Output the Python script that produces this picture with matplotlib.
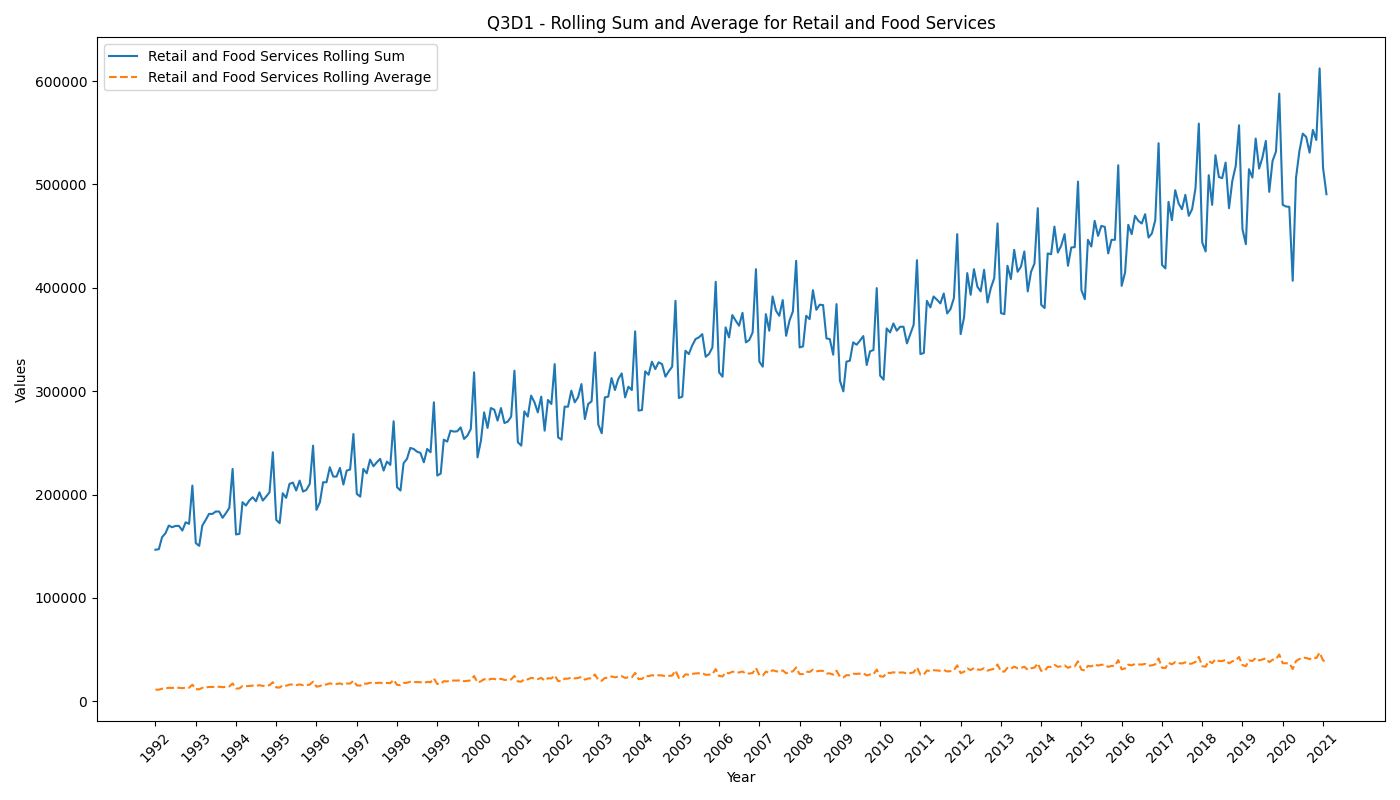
import numpy as np
import pandas as pd
import matplotlib
matplotlib.use('Agg')
import matplotlib.pyplot as plt

# monthly values, in thousands, Jan 1992 .. Feb 2021
rolling_sum_k = [
    146.6, 147.2, 158.8, 162.6, 170.0, 168.4, 169.7, 169.7, 165.2, 173.2, 171.7, 208.7,  # 1992
    153.0, 150.4, 170.0, 175.5, 181.3, 181.3, 183.6, 183.6, 177.5, 182.0, 187.1, 224.8,  # 1993
    161.4, 162.0, 192.6, 189.4, 194.2, 197.4, 193.5, 202.2, 194.2, 198.0, 202.2, 240.9,  # 1994
    175.5, 172.3, 201.3, 196.8, 210.3, 211.6, 203.9, 213.5, 202.9, 204.5, 210.3, 247.3,  # 1995
    185.2, 192.6, 211.9, 211.9, 226.4, 217.4, 217.4, 225.8, 209.7, 223.2, 224.2, 258.6,  # 1996
    200.6, 198.0, 224.8, 220.6, 233.8, 227.4, 231.2, 234.5, 223.2, 231.9, 228.7, 270.9,  # 1997
    207.1, 203.9, 230.3, 234.5, 245.1, 244.1, 241.5, 240.3, 231.2, 244.1, 240.9, 289.2,  # 1998
    218.4, 220.3, 253.1, 251.2, 261.8, 260.9, 261.2, 265.0, 253.8, 257.0, 263.4, 318.2,  # 1999
    236.0, 252.2, 279.5, 264.4, 283.7, 282.1, 271.5, 283.7, 269.2, 270.5, 275.4, 319.8,  # 2000
    250.6, 247.3, 280.5, 275.4, 295.7, 289.2, 279.5, 294.7, 261.8, 291.5, 287.6, 326.2,  # 2001
    255.4, 253.1, 285.0, 285.0, 300.5, 289.2, 294.0, 306.9, 273.1, 287.6, 290.2, 337.5,  # 2002
    267.6, 259.3, 294.0, 294.7, 312.7, 301.1, 311.8, 317.2, 294.0, 304.3, 301.1, 357.8,  # 2003
    281.2, 281.8, 319.2, 315.9, 328.5, 321.4, 327.9, 326.2, 314.0, 319.2, 323.7, 387.4,  # 2004
    293.4, 294.7, 339.1, 335.9, 344.0, 350.4, 352.0, 355.2, 333.3, 335.9, 342.3, 405.8,  # 2005
    318.2, 314.0, 361.7, 352.0, 373.6, 368.1, 363.3, 375.8, 347.2, 349.4, 356.8, 418.0,  # 2006
    328.5, 323.7, 374.5, 358.5, 391.6, 377.8, 372.9, 388.1, 353.6, 368.1, 377.1, 426.1,  # 2007
    342.3, 343.3, 372.9, 369.7, 397.7, 378.7, 383.6, 383.3, 351.0, 350.4, 335.3, 384.2,  # 2008
    310.1, 299.8, 328.5, 329.5, 347.2, 344.9, 348.8, 353.3, 325.3, 338.5, 339.8, 399.7,  # 2009
    315.0, 311.1, 360.7, 356.8, 365.5, 358.5, 362.3, 362.3, 346.2, 355.2, 364.3, 426.7,  # 2010
    335.9, 336.9, 387.4, 381.0, 391.6, 388.4, 384.9, 394.5, 375.2, 379.4, 390.0, 451.9,  # 2011
    355.2, 371.3, 414.2, 393.2, 418.0, 401.0, 396.5, 417.4, 385.8, 399.7, 409.4, 462.2,  # 2012
    375.5, 374.5, 421.3, 408.4, 436.7, 415.5, 420.3, 435.1, 396.5, 415.5, 423.5, 477.0,  # 2013
    383.6, 380.4, 433.2, 432.5, 459.2, 434.1, 440.6, 451.9, 421.3, 439.0, 439.3, 502.7,  # 2014
    397.7, 389.0, 446.4, 439.9, 464.7, 450.2, 459.9, 458.9, 433.2, 446.4, 446.4, 518.5,  # 2015
    401.9, 414.8, 460.9, 451.9, 469.6, 464.7, 462.2, 471.2, 448.6, 452.5, 465.4, 539.8,  # 2016
    422.2, 418.7, 483.1, 465.4, 494.4, 481.5, 476.0, 489.9, 469.6, 476.0, 496.3, 558.8,  # 2017
    443.8, 435.1, 508.9, 480.2, 528.2, 507.2, 506.0, 521.1, 477.0, 503.4, 517.9, 557.2,  # 2018
    456.7, 442.2, 514.7, 506.6, 544.3, 515.3, 525.9, 542.0, 492.8, 522.7, 531.7, 587.8,  # 2019
    480.2, 478.6, 478.3, 406.8, 506.6, 532.4, 549.1, 545.9, 530.7, 552.7, 543.0, 612.2,  # 2020
    516.3, 490.5,                                                                        # 2021
]

rolling_avg_k = [
    11.3, 11.3, 12.2, 12.5, 13.1, 13.0, 13.1, 13.1, 12.7, 13.3, 13.2, 16.1,
    11.8, 11.6, 13.1, 13.5, 13.9, 13.9, 14.1, 14.1, 13.7, 14.0, 14.4, 17.3,
    12.4, 12.5, 14.8, 14.6, 14.9, 15.2, 14.9, 15.6, 14.9, 15.2, 15.6, 18.5,
    13.5, 13.3, 15.5, 15.1, 16.2, 16.3, 15.7, 16.4, 15.6, 15.7, 16.2, 19.0,
    14.2, 14.8, 16.3, 16.3, 17.4, 16.7, 16.7, 17.4, 16.1, 17.2, 17.2, 19.9,
    15.4, 15.2, 17.3, 17.0, 18.0, 17.5, 17.8, 18.0, 17.2, 17.8, 17.6, 20.8,
    15.9, 15.7, 17.7, 18.0, 18.9, 18.8, 18.6, 18.5, 17.8, 18.8, 18.5, 22.2,
    16.8, 16.9, 19.5, 19.3, 20.1, 20.1, 20.1, 20.4, 19.5, 19.8, 20.3, 24.5,
    18.2, 19.4, 21.5, 20.3, 21.8, 21.7, 20.9, 21.8, 20.7, 20.8, 21.2, 24.6,
    19.3, 19.0, 21.6, 21.2, 22.7, 22.2, 21.5, 22.7, 20.1, 22.4, 22.1, 25.1,
    19.6, 19.5, 21.9, 21.9, 23.1, 22.2, 22.6, 23.6, 21.0, 22.1, 22.3, 26.0,
    20.6, 19.9, 22.6, 22.7, 24.1, 23.2, 24.0, 24.4, 22.6, 23.4, 23.2, 27.5,
    21.6, 21.7, 24.6, 24.3, 25.3, 24.7, 25.2, 25.1, 24.2, 24.6, 24.9, 29.8,
    22.6, 22.7, 26.1, 25.8, 26.5, 27.0, 27.1, 27.3, 25.6, 25.8, 26.3, 31.2,
    24.5, 24.2, 27.8, 27.1, 28.7, 28.3, 27.9, 28.9, 26.7, 26.9, 27.4, 32.2,
    25.3, 24.9, 28.8, 27.6, 30.1, 29.1, 28.7, 29.9, 27.2, 28.3, 29.0, 32.8,
    26.3, 26.4, 28.7, 28.4, 30.6, 29.1, 29.5, 29.5, 27.0, 27.0, 25.8, 29.6,
    23.9, 23.1, 25.3, 25.3, 26.7, 26.5, 26.8, 27.2, 25.0, 26.0, 26.1, 30.7,
    24.2, 23.9, 27.7, 27.4, 28.1, 27.6, 27.9, 27.9, 26.6, 27.3, 28.0, 32.8,
    25.8, 25.9, 29.8, 29.3, 30.1, 29.9, 29.6, 30.3, 28.9, 29.2, 30.0, 34.8,
    27.3, 28.6, 31.9, 30.2, 32.2, 30.8, 30.5, 32.1, 29.7, 30.7, 31.5, 35.6,
    28.9, 28.8, 32.4, 31.4, 33.6, 32.0, 32.3, 33.5, 30.5, 32.0, 32.6, 36.7,
    29.5, 29.3, 33.3, 33.3, 35.3, 33.4, 33.9, 34.8, 32.4, 33.8, 33.8, 38.7,
    30.6, 29.9, 34.3, 33.8, 35.7, 34.6, 35.4, 35.3, 33.3, 34.3, 34.3, 39.9,
    30.9, 31.9, 35.5, 34.8, 36.1, 35.7, 35.6, 36.2, 34.5, 34.8, 35.8, 41.5,
    32.5, 32.2, 37.2, 35.8, 38.0, 37.0, 36.6, 37.7, 36.1, 36.6, 38.2, 43.0,
    34.1, 33.5, 39.1, 36.9, 40.6, 39.0, 38.9, 40.1, 36.7, 38.7, 39.8, 42.9,
    35.1, 34.0, 39.6, 39.0, 41.9, 39.6, 40.5, 41.7, 37.9, 40.2, 40.9, 45.2,
    36.9, 36.8, 36.8, 31.3, 39.0, 41.0, 42.2, 42.0, 40.8, 42.5, 41.8, 47.1,
    39.7, 37.7,
]

months = pd.date_range('1992-01-01', periods=len(rolling_sum_k), freq='MS')
years = list(range(1992, 2022))

fig, ax = plt.subplots(figsize=(14, 8))
ax.plot(months, np.array(rolling_sum_k) * 1000, label='Retail and Food Services Rolling Sum')
ax.plot(months, np.array(rolling_avg_k) * 1000, '--', label='Retail and Food Services Rolling Average')

tick_dates = pd.to_datetime([f'{y}-01-01' for y in years])
ax.set_xticks(tick_dates)
ax.set_xticklabels([str(y) for y in years], rotation=45)

ax.set_title('Q3D1 - Rolling Sum and Average for Retail and Food Services')
ax.set_xlabel('Year')
ax.set_ylabel('Values')
ax.legend(loc='upper left')

plt.tight_layout()
plt.savefig('out.png', dpi=100)
